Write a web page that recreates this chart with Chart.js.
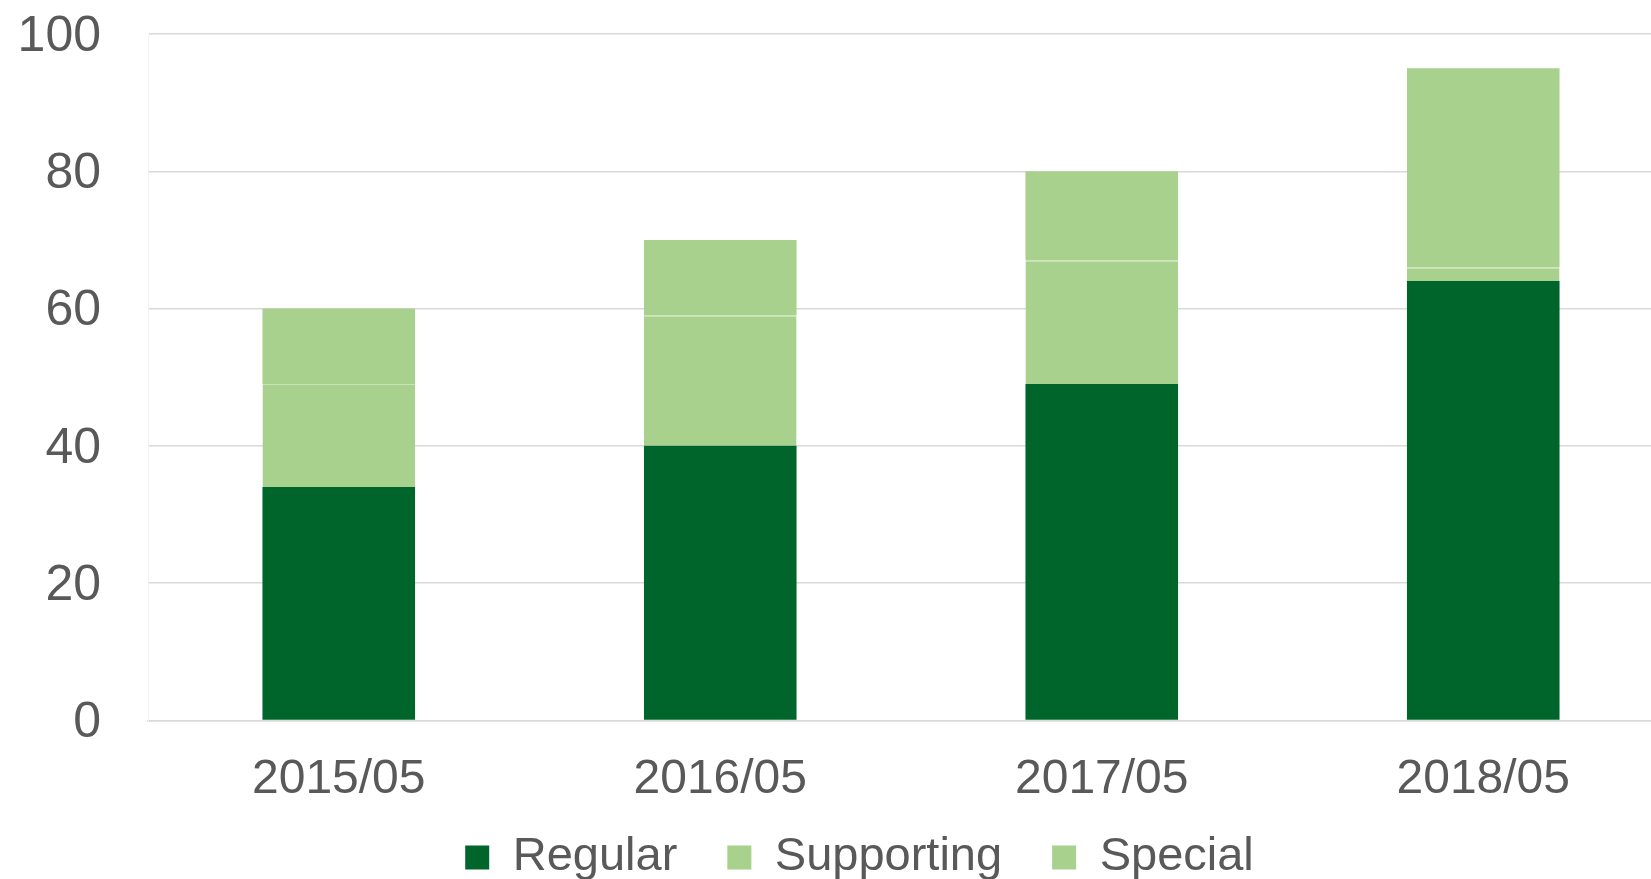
<!DOCTYPE html>
<html>
<head>
<meta charset="utf-8">
<script src="https://cdn.jsdelivr.net/npm/chart.js@4.4.0/dist/chart.umd.min.js"></script>
<style>
  html, body { margin:0; padding:0; background:#fff; overflow:hidden; }
  #wrap { position:relative; width:1674px; height:990px; margin-top:-43px; }
</style>
</head>
<body>
<div id="wrap"><canvas id="chart"></canvas></div>
<script>
// dados
const labels = ['2015/05', '2016/05', '2017/05', '2018/05'];
const regular = [34, 40, 49, 64];
const supporting = [15, 19, 18, 2];
const special = [11, 11, 13, 29];
const yTicks = [0, 20, 40, 60, 80, 100];

const DARK = '#00652A';
const LIGHT = '#A9D18E';
const TXT = '#595959';
const FAM = '"Liberation Sans", Arial, sans-serif';

// aproxima a legenda do eixo x (como no original)
const legendShift = {
  id: 'legendShift',
  afterLayout(chart) {
    const lg = chart.legend;
    lg.top -= 56; lg.bottom -= 56;
    lg.left += 12; lg.right += 12;
  }
};

const ctx = document.getElementById('chart').getContext('2d');
new Chart(ctx, {
  type: 'bar',
  data: {
    labels: labels,
    datasets: [
      { label: 'Regular', data: regular, backgroundColor: DARK, borderWidth: 0 },
      { label: 'Supporting', data: supporting, backgroundColor: LIGHT, borderColor: '#c8e3b6', borderWidth: { top: 1 } },
      { label: 'Special', data: special, backgroundColor: LIGHT, borderWidth: 0 }
    ]
  },
  options: {
    responsive: true,
    maintainAspectRatio: false,
    animation: false,
    layout: { padding: { left: 21, right: 0, top: 5, bottom: 0 } },
    datasets: { bar: { categoryPercentage: 1, barPercentage: 0.4 } },
    plugins: {
      tooltip: { enabled: false },
      legend: {
        position: 'bottom',
        labels: { color: TXT, font: { family: FAM, size: 47 }, boxWidth: 24, boxHeight: 24, padding: 50 }
      }
    },
    scales: {
      x: {
        stacked: true,
        grid: { display: false, drawTicks: false },
        border: { color: '#d9d9d9', width: 1.5 },
        ticks: { color: TXT, font: { family: FAM, size: 48 }, padding: 31 }
      },
      y: {
        stacked: true,
        min: 0, max: 100,
        afterBuildTicks: axis => { axis.ticks = yTicks.map(v => ({ value: v })); },
        afterFit: axis => { axis.width = 127; },
        grid: { color: '#d9d9d9', lineWidth: 1.5, drawTicks: false },
        border: { color: '#f2f2f2', width: 1 },
        ticks: { color: TXT, font: { family: FAM, size: 50 }, padding: 47, labelOffset: 3 }
      }
    }
  },
  plugins: [legendShift]
});
</script>
</body>
</html>
